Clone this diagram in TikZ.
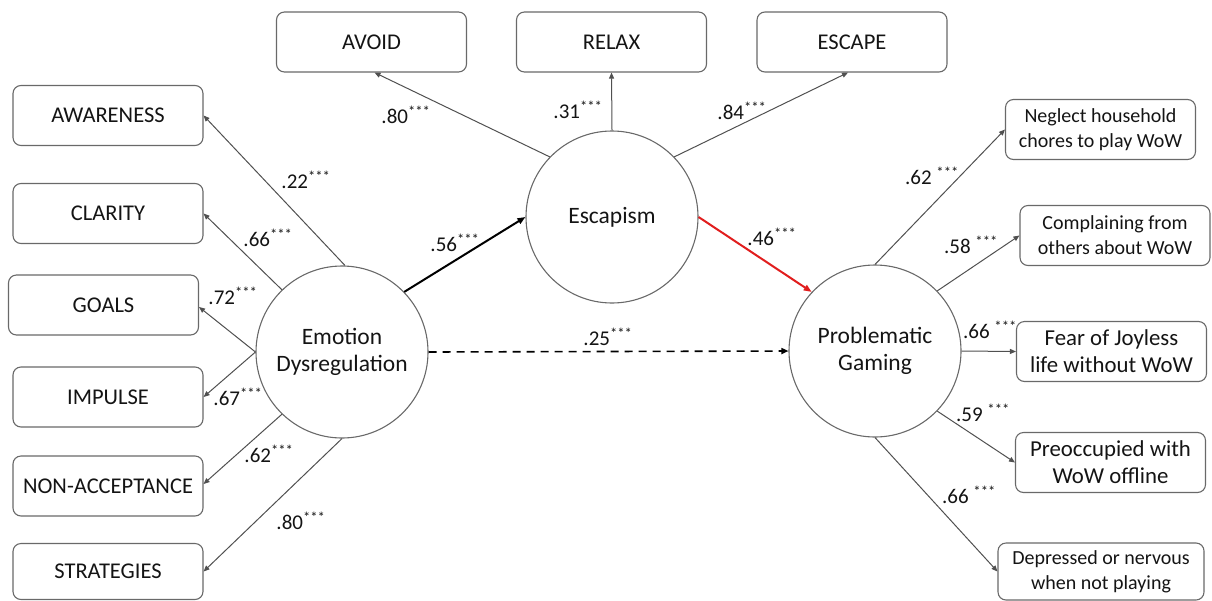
\documentclass[tikz,border=0pt]{standalone}
\usepackage{fontspec}
\setmainfont{Carlito}
\usetikzlibrary{arrows.meta}
\definecolor{linegray}{RGB}{80,80,80}
\definecolor{boxgray}{RGB}{105,105,105}
\definecolor{txt}{RGB}{20,20,20}
\definecolor{pathred}{RGB}{225,30,30}
\tikzset{
  ind/.style={draw=boxgray, line width=1.1pt, rounded corners=8pt, minimum width=190pt, minimum height=60pt, inner sep=2pt, align=center, text=txt, font=\fontsize{22.5}{27}\selectfont},
  indsmall/.style={ind, font=\fontsize{20}{25}\selectfont},
  indmid/.style={ind, font=\fontsize{22.8}{27}\selectfont},
  latent/.style={draw=boxgray, line width=1.1pt, circle, minimum size=172pt, inner sep=0pt, align=center, text=txt, font=\fontsize{23.5}{27}\selectfont},
  load/.style={draw=linegray, line width=1pt, -{Triangle[length=6pt,width=5pt]}},
  coef/.style={text=txt, inner sep=0pt, font=\fontsize{21}{24}\selectfont},
}
\newcommand{\st}{\textsuperscript{***}}
\begin{document}
\begin{tikzpicture}[x=1pt,y=-1pt]
\useasboundingbox (0,0) rectangle (1212,600);
% latent variables
\node[latent] (ED) at (342,352) {Emotion\\Dysregulation};
\node[latent] (ES) at (612,217) {Escapism};
\node[latent] (PG) at (875,351) {Problematic\\Gaming};
% left indicators
\node[ind] (AW) at (108,115.5) {AWARENESS};
\node[ind] (CL) at (108,213.5) {CLARITY};
\node[ind] (GO) at (103.5,305) {GOALS};
\node[ind] (IM) at (108,397) {IMPULSE};
\node[ind] (NA) at (108,486) {NON-ACCEPTANCE};
\node[ind, minimum height=56pt] (ST) at (108,571.5) {STRATEGIES};
% top indicators
\node[ind] (AV) at (371.5,42) {AVOID};
\node[ind] (RE) at (611.5,42) {RELAX};
\node[ind] (EC) at (852,42) {ESCAPE};
% right indicators
\node[indsmall] (NG) at (1100.5,129.5) {Neglect household\\chores to play WoW};
\node[indsmall] (CO) at (1115,235.5) {Complaining from\\others about WoW};
\node[indmid] (FE) at (1111.5,351.5) {Fear of Joyless\\life without WoW};
\node[indmid] (PR) at (1110.5,462.5) {Preoccupied with\\WoW offline};
\node[indsmall, minimum width=206pt, minimum height=57pt] (DE) at (1101,571.5) {Depressed or nervous\\when not playing};
% loadings emotion dysregulation
\draw[load] (ED.88) -- (AW.east);
\draw[load] (ED.134) -- (CL.east);
\draw[load] (ED.180) -- ([yshift=-2pt]GO.east);
\draw[load] (ED.180) -- (IM.east);
\draw[load] (ED.226) -- ([yshift=2pt]NA.east);
\draw[load] (ED.270) -- (ST.east);
% loadings escapism
\draw[load] (ES.136) -- ([xshift=3pt]AV.south);
\draw[load] (ES.90) -- (RE.south);
\draw[load] (ES.44) -- ([xshift=-4pt]EC.south);
% loadings problematic gaming
\draw[load] (PG.90) -- (NG.west);
\draw[load] (PG.44) -- (CO.west);
\draw[load] (PG.east) -- (FE.west);
\draw[load] (PG.-44) -- (PR.west);
\draw[load] (PG.270) -- (DE.west);
% structural paths
\draw[load, draw=black, line width=2pt, -{Triangle[length=8pt,width=6pt]}] (ED.44) -- (ES.west);
\draw[load, draw=pathred, line width=2pt, -{Triangle[length=8pt,width=6pt]}] (ES.east) -- (PG.137);
\draw[load, draw=black, line width=1.6pt, dash pattern=on 8pt off 6pt, -{Triangle[length=7pt,width=6pt]}] (ED.east) -- (PG.west);
% coefficients
\node[coef] (c1) at (306,180) {.22\st};
\node[coef] (c2) at (268,238) {.66\st};
\node[coef] (c3) at (233,296) {.72\st};
\node[coef] (c4) at (238,397) {.67\st};
\node[coef] (c5) at (269,454) {.62\st};
\node[coef] (c6) at (301,521) {.80\st};
\node[coef] (c7) at (406,115) {.80\st};
\node[coef] (c8) at (578,110) {.31\st};
\node[coef] (c9) at (742,111) {.84\st};
\node[coef] (c10) at (455,243) {.56\st};
\node[coef] (c11) at (772,237) {.46\st};
\node[coef] (c12) at (608,337) {.25\st};
\node[coef] (c13) at (932,176) {.62 \st};
\node[coef] (c14) at (971,245) {.58 \st};
\node[coef] (c15) at (990,330) {.66 \st};
\node[coef] (c16) at (983,413) {.59 \st};
\node[coef] (c17) at (969,495) {.66 \st};
\end{tikzpicture}
\end{document}
